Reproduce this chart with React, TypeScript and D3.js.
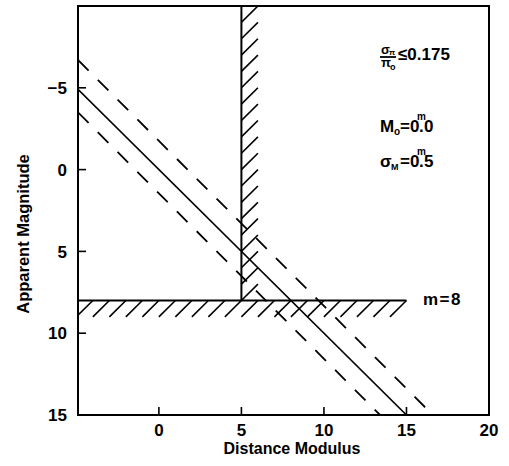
import React from 'react'
import * as d3 from 'd3'

// distance modulus (x) vs apparent magnitude (y)
const xDomain = [-4.9, 20]
const yDomain = [-10, 15]
const xTicks = [0, 5, 10, 15, 20]
const yTicks = [-5, 0, 5, 10, 15]

// m = M0 + mu, with M0 = 0
const solidLine: [number, number][] = [[-4.9, -4.9], [15, 15]]
const upperDashed: [number, number][] = [[-4.9, -6.7], [16.6, 15]]
const lowerDashed: [number, number][] = [[-4.9, -3.5], [13.4, 15]]

const magLimit = 8
const magLimitEnd = 15
const distLimit = 5

const W = 509
const H = 466
const font = '"Liberation Sans", Arial, sans-serif'

export default function App() {
  const x = d3.scaleLinear().domain(xDomain).range([78, 489])
  const y = d3.scaleLinear().domain(yDomain).range([6, 415])
  const line = d3.line<[number, number]>().x(d => x(d[0])).y(d => y(d[1]))

  // hatch strokes below m=8 and to the right of mu=5
  const hHatch = d3.range(Math.floor(xDomain[0]), magLimitEnd).map(k => [[k, magLimit + 1], [k + 1, magLimit]] as [number, number][])
  const vHatch = d3.range(magLimit, yDomain[0], -1).map(m => [[distLimit, m], [distLimit + 1, m - 1]] as [number, number][])

  const [x0, x1] = x.range()
  const [y0, y1] = y.range()

  return (
    <svg width={W} height={H} style={{ position: 'absolute', left: 0, top: 0, background: '#fff' }} fontFamily={font}>
      <defs>
        <clipPath id="plot">
          <rect x={x0} y={y0} width={x1 - x0} height={y1 - y0} />
        </clipPath>
      </defs>

      <g clipPath="url(#plot)" stroke="#000" fill="none">
        <path d={line(solidLine)!} strokeWidth={1.6} />
        <path d={line(upperDashed)!} strokeWidth={1.8} strokeDasharray="15,13" />
        <path d={line(lowerDashed)!} strokeWidth={1.8} strokeDasharray="15,13" />
        {hHatch.map((d, i) => <path key={'h' + i} d={line(d)!} strokeWidth={1.6} />)}
        {vHatch.map((d, i) => <path key={'v' + i} d={line(d)!} strokeWidth={1.6} />)}
        <line x1={x0} x2={x(magLimitEnd)} y1={y(magLimit)} y2={y(magLimit)} strokeWidth={2} />
        <line x1={x(distLimit)} x2={x(distLimit)} y1={y0} y2={y(magLimit)} strokeWidth={2} />
      </g>

      {/* frame */}
      <rect x={x0} y={y0} width={x1 - x0} height={y1 - y0} fill="none" stroke="#000" strokeWidth={2} />

      {/* ticks */}
      <g stroke="#000" strokeWidth={1.6}>
        {xTicks.slice(0, -1).map(t => <line key={t} x1={x(t)} x2={x(t)} y1={y1} y2={y1 - 8} />)}
        {yTicks.slice(0, -1).map(t => <line key={t} x1={x0} x2={x0 + 8} y1={y(t)} y2={y(t)} />)}
      </g>
      <g fontSize={17} fontWeight="bold" fill="#000">
        {xTicks.map(t => (
          <text key={t} x={x(t)} y={436} textAnchor="middle">{d3.format('d')(t)}</text>
        ))}
        {yTicks.map(t => (
          <text key={t} x={67} y={y(t)} dy="0.36em" textAnchor="end">{d3.format('d')(t)}</text>
        ))}
        <text x={292} y={454} textAnchor="middle" fontSize={16}>Distance Modulus</text>
        <text transform={`translate(29,234) rotate(-90)`} textAnchor="middle" fontSize={16.5}>Apparent Magnitude</text>
      </g>

      {/* annotations */}
      <g fill="#000" fontWeight="bold" fontSize={17}>
        <text x={381} y={54} fontSize={13}>σ</text>
        <text x={389} y={55} fontSize={8}>π</text>
        <line x1={380} x2={396} y1={57} y2={57} stroke="#000" strokeWidth={1.8} />
        <text x={381} y={67} fontSize={13}>π</text>
        <text x={390} y={70} fontSize={9}>o</text>
        <text x={398} y={60}>≤0.175</text>

        <text x={380} y={132}>M</text>
        <text x={394} y={135} fontSize={10}>o</text>
        <text x={400} y={132}>=0</text>
        <text x={417} y={120} fontSize={10}>m</text>
        <text x={419} y={132}>.</text>
        <text x={424} y={132}>0</text>

        <text x={380} y={167}>σ</text>
        <text x={391} y={170} fontSize={9}>M</text>
        <text x={400} y={167}>=0</text>
        <text x={417} y={155} fontSize={10}>m</text>
        <text x={419} y={167}>.</text>
        <text x={424} y={167}>5</text>

        <text x={423} y={305} letterSpacing={1.5}>m=8</text>
      </g>
    </svg>
  )
}
